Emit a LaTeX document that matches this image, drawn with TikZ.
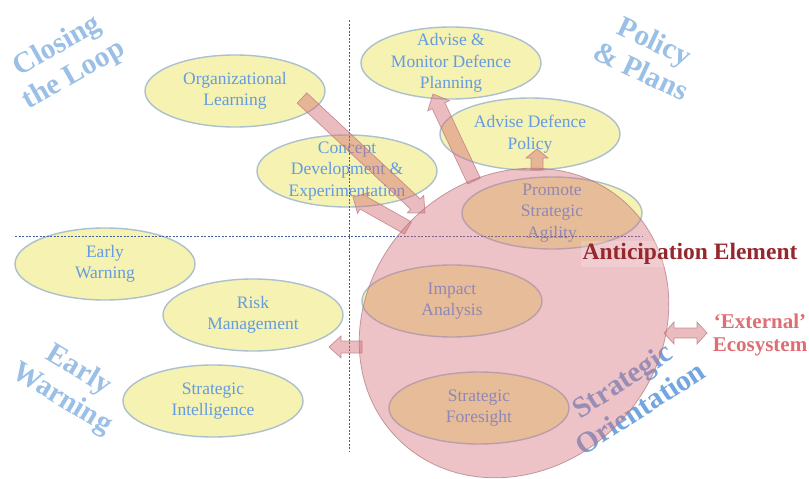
\documentclass[tikz,border=0pt]{standalone}
\usepackage{fontspec}
\setmainfont{Liberation Serif}
\usetikzlibrary{shapes.geometric,calc}

\definecolor{ellfill}{RGB}{245,242,178}
\definecolor{elldraw}{RGB}{172,192,205}
\definecolor{elltext}{RGB}{100,155,225}
\definecolor{zonetext}{RGB}{155,192,230}
\definecolor{orienttext}{RGB}{115,165,225}
\definecolor{antpink}{RGB}{210,107,117}
\definecolor{antline}{RGB}{175,120,125}
\definecolor{arrowline}{RGB}{190,125,130}
\definecolor{antred}{RGB}{150,40,45}
\definecolor{ecored}{RGB}{222,110,115}
\definecolor{gridline}{RGB}{65,95,155}

% block arrow: tail, tip, shaft half-width, head half-width, head length (pt)
\newcommand\blockarrow[5]{%
  \draw[barrow] let \p1=(#1), \p2=(#2),
      \n1={atan2(\y2-\y1,\x2-\x1)},
      \n2={veclen(\x2-\x1,\y2-\y1)-#5pt} in
    ($(\p1)+(\n1+90:#3pt)$)
    -- ($(\p1)+(\n1:\n2)+(\n1+90:#3pt)$)
    -- ($(\p1)+(\n1:\n2)+(\n1+90:#4pt)$)
    -- (\p2)
    -- ($(\p1)+(\n1:\n2)+(\n1-90:#4pt)$)
    -- ($(\p1)+(\n1:\n2)+(\n1-90:#3pt)$)
    -- ($(\p1)+(\n1-90:#3pt)$) -- cycle;}

% double-headed block arrow: end, end, shaft half-width, head half-width, head length (pt)
\newcommand\dblockarrow[5]{%
  \draw[barrow] let \p1=(#1), \p2=(#2),
      \n1={atan2(\y2-\y1,\x2-\x1)},
      \n2={veclen(\x2-\x1,\y2-\y1)-#5pt} in
    (\p1)
    -- ($(\p1)+(\n1:#5pt)+(\n1+90:#4pt)$)
    -- ($(\p1)+(\n1:#5pt)+(\n1+90:#3pt)$)
    -- ($(\p1)+(\n1:\n2)+(\n1+90:#3pt)$)
    -- ($(\p1)+(\n1:\n2)+(\n1+90:#4pt)$)
    -- (\p2)
    -- ($(\p1)+(\n1:\n2)+(\n1-90:#4pt)$)
    -- ($(\p1)+(\n1:\n2)+(\n1-90:#3pt)$)
    -- ($(\p1)+(\n1:#5pt)+(\n1-90:#3pt)$)
    -- ($(\p1)+(\n1:#5pt)+(\n1-90:#4pt)$) -- cycle;}

\begin{document}
\begin{tikzpicture}[x=1pt,y=-1pt,
  yell/.style={ellipse, draw=elldraw, line width=1.4pt, fill=ellfill,
    minimum width=180pt, minimum height=72pt, inner sep=0pt},
  etext/.style={align=center, text=elltext, inner sep=0pt,
    font=\fontsize{17.5}{21.5}\selectfont},
  zone/.style={align=center, text=zonetext, inner sep=0pt,
    font=\bfseries\fontsize{29.5}{33}\selectfont},
  barrow/.style={fill=antpink, fill opacity=0.45, draw=arrowline,
    draw opacity=0.8, line width=0.7pt, line join=miter},
  antzone/.style={ellipse, fill=antpink, fill opacity=0.4, draw=antline,
    draw opacity=0.7, line width=0.8pt, minimum width=328pt,
    minimum height=290pt, inner sep=0pt},
  gridrule/.style={draw=gridline, line width=0.9pt, dash pattern=on 2pt off 1.5pt}]

\fill[white] (0,0) rectangle (809,479);
\useasboundingbox (0,0) rectangle (809,479);

% quadrant titles
\node[zone, rotate=29.5] (tloop) at (66,61) {Closing\\the Loop};
\node[zone, rotate=-25] (tpol) at (648,56) {Policy\\\& Plans};
\node[zone, rotate=-31] (tew) at (70,385) {Early\\Warning};
\node[zone, rotate=33, text=orienttext] (tor) at (631,394) {Strategic\\Orientation};

% activity ellipses
\node[yell] (ol) at (235,91) {};
\node[etext] at (ol) {Organizational\\Learning};
\node[yell] (cde) at (347,171) {};
\node[etext] at (cde) {Concept\\Development \&\\Experimentation};
\node[yell] (amp) at (451,63) {};
\node[etext] at (amp) {Advise \&\\Monitor Defence\\Planning};
\node[yell] (adp) at (530,134) {};
\node[etext] at (adp) {Advise Defence\\Policy};
\node[yell] (psa) at (552,213) {};
\node[etext] at (psa) {Promote\\Strategic\\Agility};
\node[yell] (ew) at (105,264) {};
\node[etext] at (ew) {Early\\Warning};
\node[yell] (rm) at (253,315) {};
\node[etext] at (rm) {Risk\\Management};
\node[yell] (si) at (213,401) {};
\node[etext] at (si) {Strategic\\Intelligence};
\node[yell] (ia) at (452,301) {};
\node[etext] at (ia) {Impact\\Analysis};
\node[yell] (sf) at (479,408) {};
\node[etext] at (sf) {Strategic\\Foresight};

% quadrant rules
\coordinate (vt) at (349,20);  \coordinate (vb) at (349,452);
\coordinate (hl) at (15,236);  \coordinate (hr) at (643,236);
\draw[gridrule] (vt) -- (vb);
\draw[gridrule] (hl) -- (hr);

% flow arrows
\coordinate (a1s) at (302,98);  \coordinate (a1e) at (425,213);
\coordinate (a2s) at (408,228); \coordinate (a2e) at (353,197);
\coordinate (a3s) at (474,181); \coordinate (a3e) at (433,94);
\coordinate (a4s) at (537,170); \coordinate (a4e) at (537,149);
\coordinate (a5s) at (362,347); \coordinate (a5e) at (329,347);
\blockarrow{a1s}{a1e}{7}{12}{13}
\blockarrow{a2s}{a2e}{7}{12}{12}
\blockarrow{a3s}{a3e}{7}{12}{13}
\blockarrow{a4s}{a4e}{6}{11}{9}
\blockarrow{a5s}{a5e}{6}{11}{12}

% anticipation element
\node[antzone, rotate=45] (ant) at (514,323) {};
\node[text=antred, font=\bfseries\fontsize{23.5}{26}\selectfont,
  fill=white, fill opacity=0.18, text opacity=1, inner sep=2pt] (antlbl) at (690,254)
  {Anticipation Element};

% external ecosystem
\coordinate (a6s) at (664,333); \coordinate (a6e) at (707,333);
\dblockarrow{a6s}{a6e}{5}{11}{10}
\node[text=ecored, align=center, inner sep=0pt,
  font=\bfseries\fontsize{21}{22.5}\selectfont] (eco) at (760,335)
  {‘External’\\Ecosystem};
\end{tikzpicture}
\end{document}
